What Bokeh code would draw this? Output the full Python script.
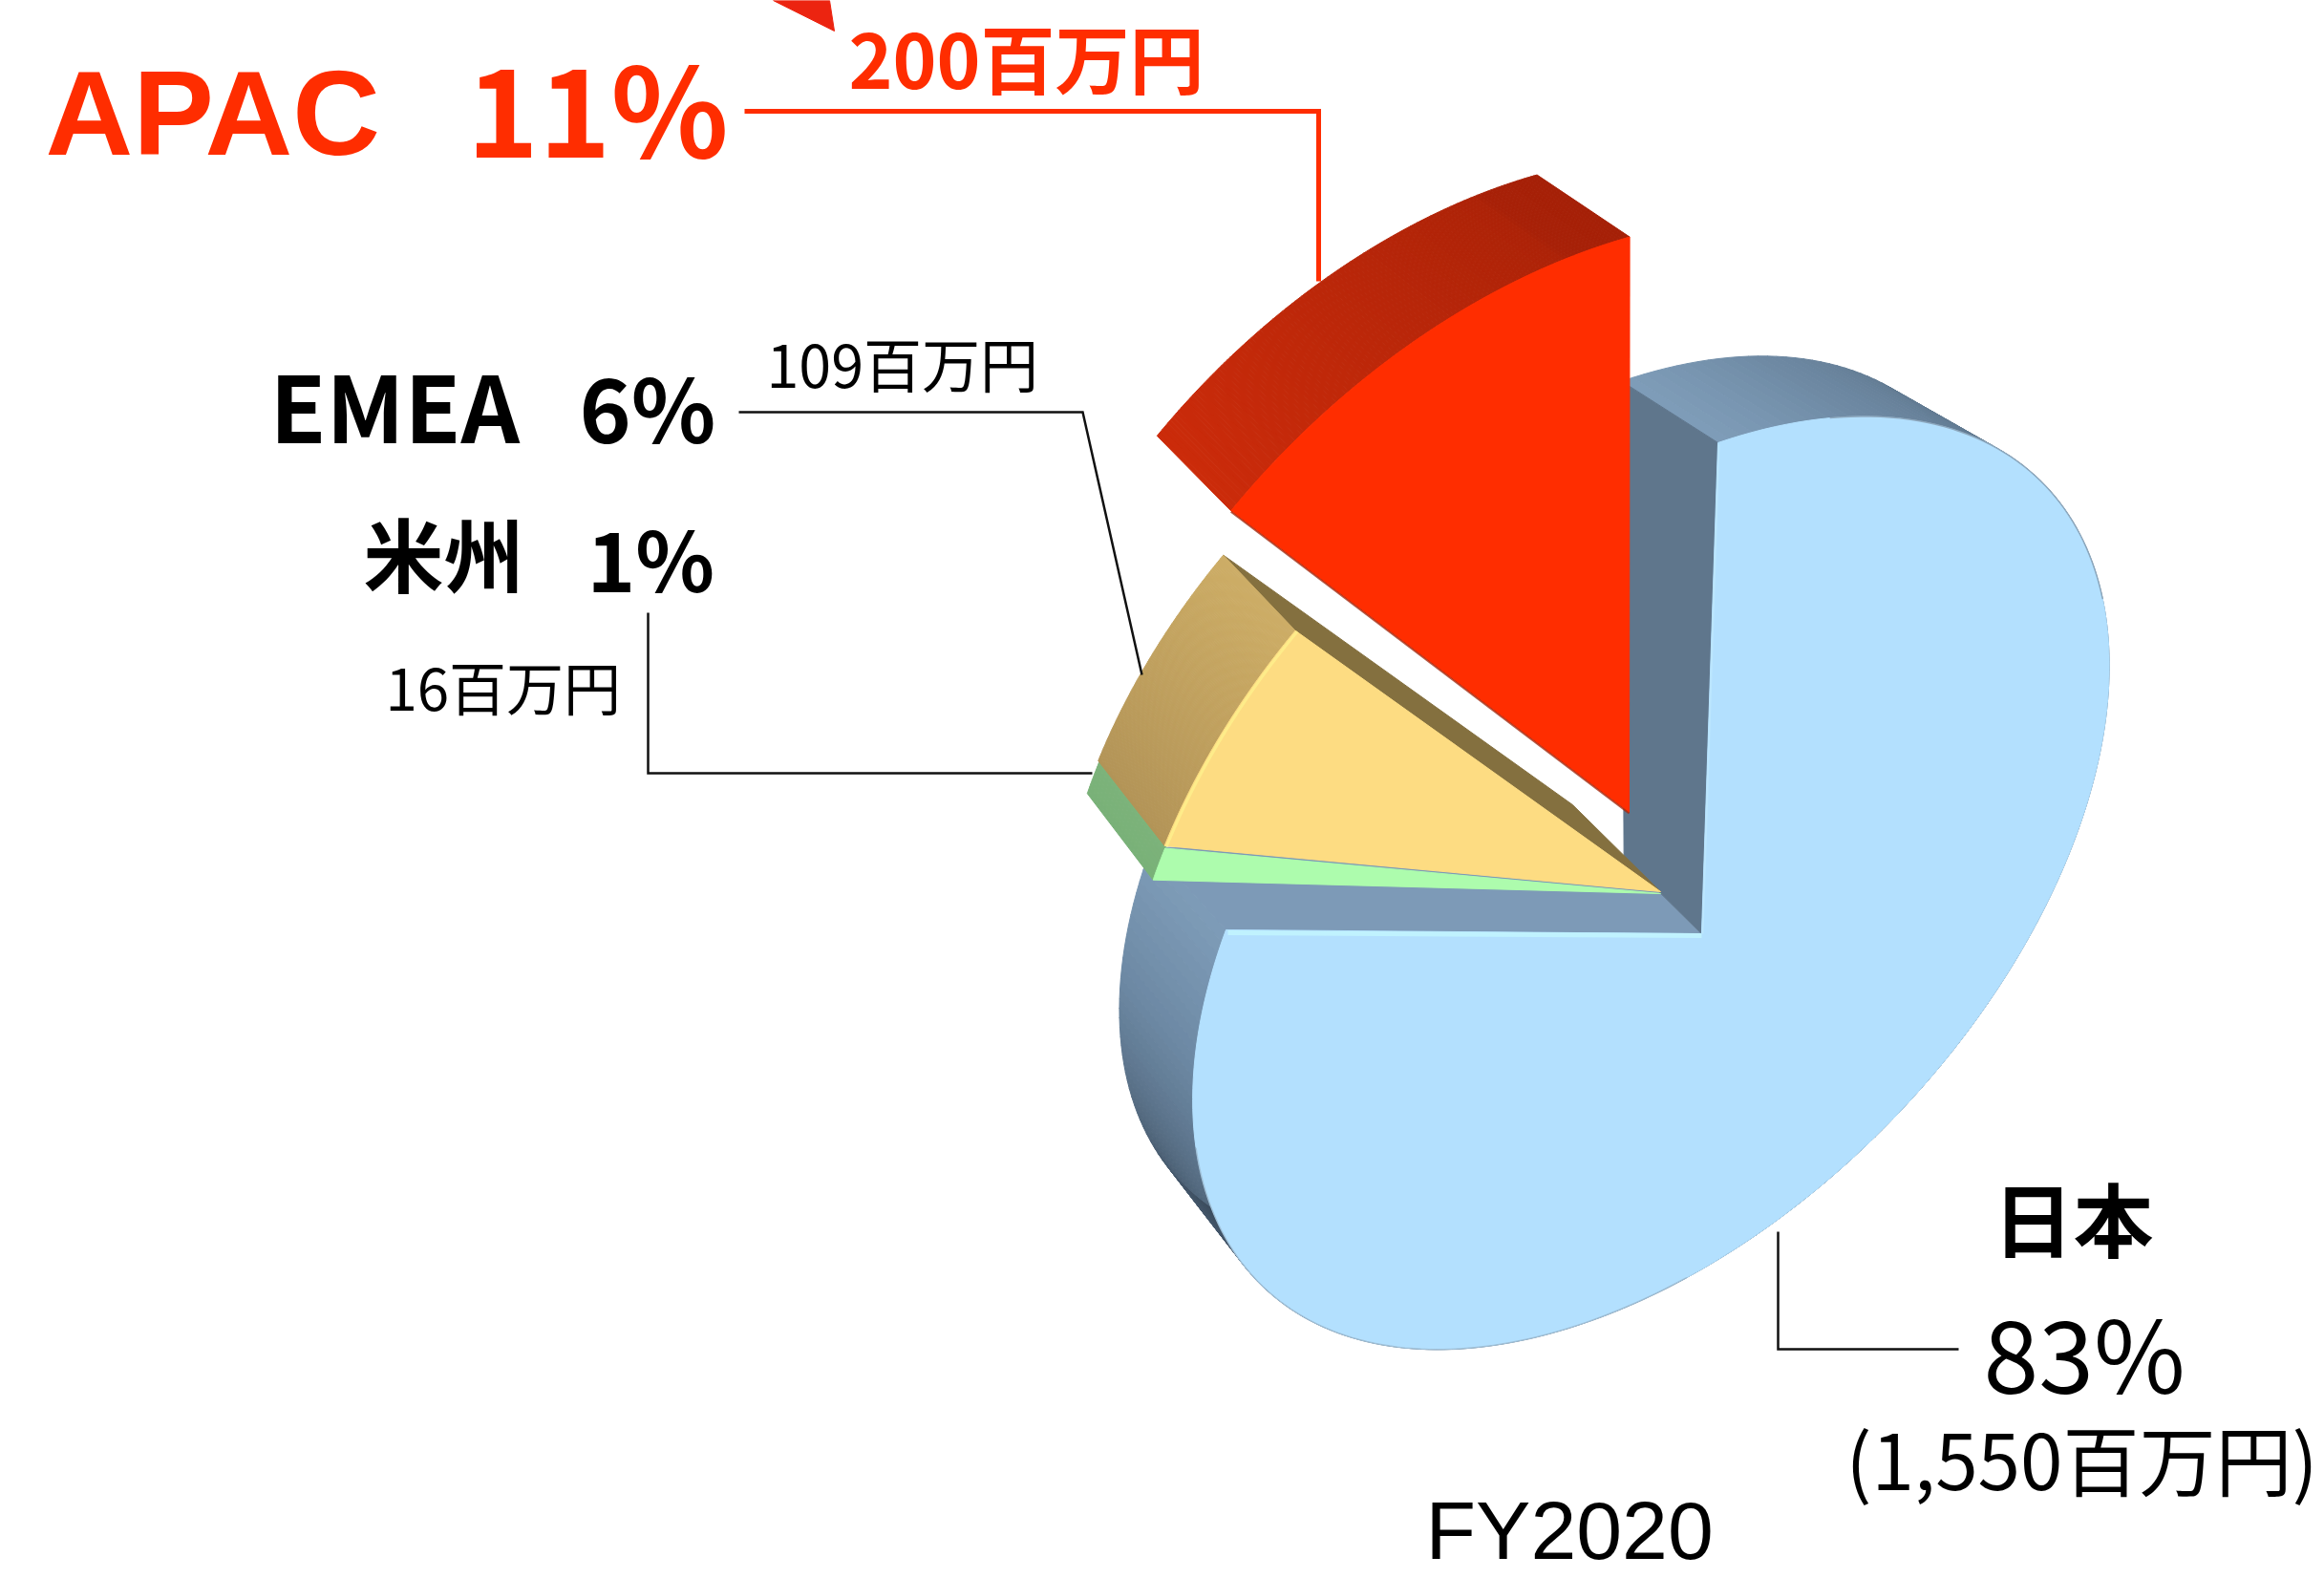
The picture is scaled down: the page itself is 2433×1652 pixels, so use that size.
import numpy as np
from bokeh.plotting import figure
from bokeh.embed import file_html
from bokeh.resources import INLINE
from bokeh.core.properties import value

# ---- data ----
regions = ["日本", "APAC", "EMEA", "米州"]
amounts = [1550, 200, 109, 16]          # 百万円
percents = ["83%", "11%", "6%", "1%"]
fiscal_year = "FY2020"

# ---- projection calibration (unit pie -> picture) ----
RIM_ANCHORS = {"center": (1781, 977), "a": (1798, 463), "b": (1283, 973), "c": (1769, 1335), "d": (2124, 980)}
SLICE_APEX = {"APAC": (1705, 850), "EMEA": (1738, 933), "米州": (1738, 935)}
VANISH = np.array([-358.0, -1136.0])
DEPTH = 0.956
DEPTH_APAC = 0.953
APEX_DEPTH = 0.962
MAIN_BACK_SHIFT = np.array([-6.0, 6.0])
BASE_SHIFT = {"Noto Sans CJK JP": 0.42, "Liberation Sans": 0.355}

FONT = "Noto Sans CJK JP"
LATIN = "Liberation Sans"
RED = "#ff2d00"

shares = np.array(amounts, float) / sum(amounts) * 360.0
notch = shares[1:].sum()


def fit_h(src, dst):
    A = []
    for (x, y), (u, v) in zip(src, dst):
        A.append([x, y, 1, 0, 0, 0, -u * x, -u * y, -u])
        A.append([0, 0, 0, x, y, 1, -v * x, -v * y, -v])
    return np.linalg.svd(np.array(A, float))[2][-1].reshape(3, 3)


def unit(t):
    r = np.radians(t)
    return np.column_stack([np.cos(r), np.sin(r)])


src = [(0, 0)] + [tuple(unit(t)[0]) for t in (0, notch, 180, 180 + notch)]
dst = [RIM_ANCHORS[k] for k in ("center", "a", "b", "c", "d")]
H = fit_h(src, dst)
Hi = np.linalg.inv(H)


def apply(M, pts):
    pts = np.atleast_2d(pts)
    q = np.column_stack([pts, np.ones(len(pts))]) @ M.T
    return q[:, :2] / q[:, 2:3]


def back(pts, s=DEPTH, shift=0.0):
    return VANISH + s * (np.atleast_2d(pts) - VANISH) + shift


def rim(t0, t1, off, n=120):
    return apply(H, off + unit(np.linspace(t0, t1, n)))


def hex2(c):
    return np.array([int(c[i:i + 2], 16) for i in (1, 3, 5)], float)


def ramp(stops, colors, u):
    arr = np.array([hex2(c) for c in colors])
    return ["#%02x%02x%02x" % tuple(int(round(np.interp(x, stops, arr[:, i]))) for i in range(3)) for x in u]


p = figure(width=2433, height=1652, x_range=(0, 2433), y_range=(1652, 0),
           toolbar_location=None, output_backend="svg", min_border=0)
p.axis.visible = False
p.grid.visible = False
p.outline_line_color = None
p.background_fill_color = "white"
p.border_fill_color = "white"


def polys(list_of_pts, colors, lw=1.0):
    p.patches([list(q[:, 0]) for q in list_of_pts], [list(q[:, 1]) for q in list_of_pts],
              fill_color=colors, line_color=colors, line_width=lw)


def wall(t0, t1, off, stops, colors, n=120, s=DEPTH, shift=0.0):
    f = rim(t0, t1, off, n + 1)
    b = back(f, s, shift)
    quads = [np.vstack([f[i], f[i + 1], b[i + 1], b[i]]) for i in range(n)]
    polys(quads, ramp(stops, colors, (np.arange(n) + .5) / n))


def edge(x, y, color, width, alpha=1.0):
    p.line(x, y, line_color=color, line_width=width, line_alpha=alpha, line_join="miter", line_cap="butt")


# ---- Japan ----
off0 = np.zeros(2)
apex0 = apply(H, off0)[0]
rim0 = rim(notch, 360, off0, 240)
wall(notch, 360, off0,
     [0, .05, .12, .18, .26, .55, .85, .95, 1],
     ["#7e9cb8", "#6c88a3", "#50657a", "#3c4d5f", "#3f5164", "#55697d", "#5b7288", "#6f8ba5", "#7f9db9"],
     240, shift=MAIN_BACK_SHIFT)
# notch walls
ra, rb = rim0[-1], rim0[0]
ba = back(apex0, APEX_DEPTH)[0]
polys([np.vstack([apex0, rb, back(rb, DEPTH, MAIN_BACK_SHIFT)[0], ba])], ["#7d9ab7"])
polys([np.vstack([apex0, ra, back(ra, DEPTH, MAIN_BACK_SHIFT)[0], ba])], ["#5f768c"])
polys([np.vstack([apex0, rim0])], ["#b3e0fe"])
edge([rb[0] + 2, apex0[0]], [rb[1] + 3, apex0[1] + 2], "#c0f2fe", 5)
edge([apex0[0] + 1, ra[0] + 1], [apex0[1], ra[1] + 2], "#bce6fe", 2)
k0, k1 = 95, 240
edge(list(rim0[k1 - 55:k1 - 10, 0]), list(rim0[k1 - 55:k1 - 10, 1]), "#7f93a5", 1.5, .7)
edge(list(rim0[20:k0, 0]), list(rim0[20:k0, 1]), "#8fa6b8", 1.5, .5)

# ---- slices from the notch ----
us_off = apply(Hi, SLICE_APEX["米州"])[0]
em_off = apply(Hi, SLICE_APEX["EMEA"])[0]
ap_off = apply(Hi, SLICE_APEX["APAC"])[0]
t_ap, t_em, t_us = shares[1], shares[1] + shares[2], shares[1] + shares[2] + shares[3]

# 米州
wall(t_em - .3, t_us, us_off, [0, 1], ["#7cb37a", "#79b178"], 10)
r = rim(t_em, t_us, us_off, 20)
polys([np.vstack([apply(H, us_off), r])], ["#adfcad"])

# EMEA
r = rim(shares[1], t_em, em_off)
ape = apply(H, em_off)[0]
polys([np.vstack([ape, r[0], back(r[0])[0], back(ape)[0]])], ["#84703f"])
wall(shares[1], t_em, em_off, [0, 1], ["#cdad66", "#b39457"])
polys([np.vstack([ape, r])], ["#fddc82"])
edge(list(r[:, 0] + 2), list(r[:, 1] + 1), "#fef08c", 3, .8)

# APAC
r = rim(0, t_ap, ap_off)
apa = apply(H, ap_off)[0]
wall(0, t_ap, ap_off, [0, .15, .16, 1], ["#a52007", "#a82108", "#ad2308", "#cb2b0a"], s=DEPTH_APAC)
polys([np.vstack([apa, r])], [RED])
edge([r[-1, 0], apa[0]], [r[-1, 1] + 1, apa[1] + 1], "#a52a10", 2, .8)

# ---- small arrow cut by the picture's top edge ----
p.patch([809, 868, 873], [0, 0, 32], fill_color="#ec2410", line_color="#ec2410", line_width=1)

# ---- leader lines ----
edge([779, 1380, 1380], [116, 116, 294], RED, 5)
edge([773, 1133, 1195], [431, 431, 706], "#111111", 2.5)
edge([678, 678, 1143], [641, 809, 809], "#111111", 2.5)
edge([1861, 1861, 2050], [1289, 1412, 1412], "#111111", 2.5)


# ---- texts ----
def label(x, y, s, size, color="black", style="normal", font=FONT):
    p.text([x], [y - BASE_SHIFT[font] * size], text=[s], text_font=value(font), text_font_size=value(f"{size}px"),
           text_color=color, text_font_style=style, text_align="left", text_baseline="alphabetic")


label(47, 163, regions[1], 127, RED, "bold", LATIN)
label(488, 163, percents[1], 128, RED, "bold")
label(888, 91, f"{amounts[1]}百万円", 78, RED, "bold")
label(282, 462, regions[2], 96, "black", "bold")
label(606, 462, percents[2], 92, "black", "bold")
label(380, 612, regions[3], 84, "black", "bold")
label(614, 618, percents[3], 86, "black", "bold")
label(802, 405, f"{amounts[2]}百万円", 61)
label(403, 742, f"{amounts[3]}百万円", 60)
label(2086, 1308, regions[0], 84, "black", "bold")
label(2076, 1457, percents[0], 104)
label(1932, 1558, f"({amounts[0]:,}百万円)", 80)
label(1492, 1632, fiscal_year, 86, "black", "normal", LATIN)

open("out.html", "w").write(file_html(p, INLINE))
